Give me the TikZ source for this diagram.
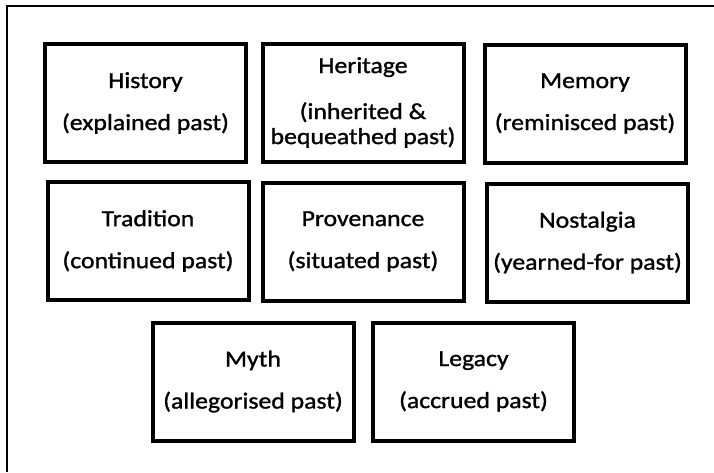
\documentclass[tikz,border=0pt]{standalone}
\usepackage{fontspec}
\setmainfont{Carlito}[FakeStretch=1.12,FakeBold=1.2]
\begin{document}
\begin{tikzpicture}[x=1pt,y=-1pt,
  box/.style={draw, line width=4pt, minimum width=201pt, minimum height=118pt,
    inner sep=0pt, align=center, font=\fontsize{23}{25}\selectfont},
  frame/.style={line width=2.5pt}]
\useasboundingbox (0,0) rectangle (714,472);
\clip (0,0) rectangle (714,472);
\draw[frame] (7,472) -- (7,6) -- (714,6);
\node[box] (history) at (145.5,103) {History\\[17pt](explained past)};
\node[box] (heritage) at (363,102.5) {Heritage\\[21pt](inherited \&\\bequeathed past)};
\node[box] (memory) at (585,103.5) {Memory\\[17pt](reminisced past)};
\node[box] (tradition) at (148,241) {Tradition\\[17pt](continued past)};
\node[box] (provenance) at (363,241.5) {Provenance\\[17pt](situated past)};
\node[box] (nostalgia) at (587.5,242.5) {Nostalgia\\[17pt](yearned-for past)};
\node[box] (myth) at (253,381.5) {Myth\\[17pt](allegorised past)};
\node[box] (legacy) at (473.5,381.5) {Legacy\\[17pt](accrued past)};
\end{tikzpicture}
\end{document}
